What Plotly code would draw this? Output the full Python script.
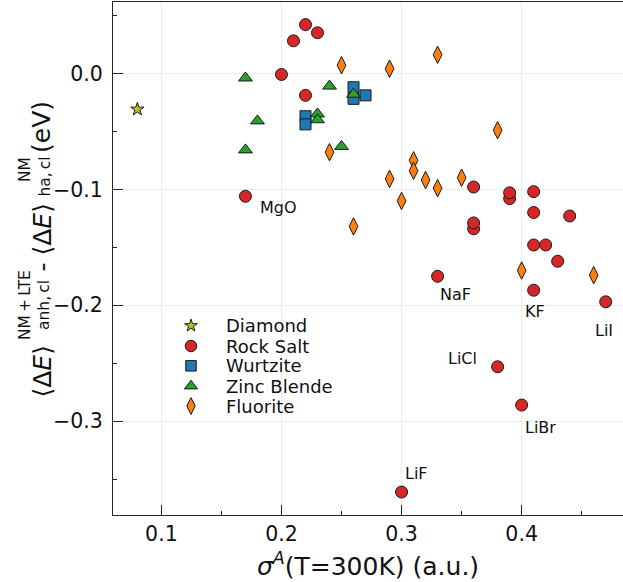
import plotly.graph_objects as go

# ---------------- data ----------------
diamond_x = [0.08]
diamond_y = [-0.031]

rocksalt_x = [0.22, 0.23, 0.21, 0.20, 0.22, 0.17, 0.36, 0.39, 0.39, 0.41, 0.36, 0.36,
              0.41, 0.44, 0.41, 0.42, 0.43, 0.33, 0.41, 0.47, 0.38, 0.40, 0.30]
rocksalt_y = [0.042, 0.035, 0.028, -0.001, -0.019, -0.106, -0.098, -0.108, -0.103, -0.102, -0.134, -0.129,
              -0.120, -0.123, -0.148, -0.148, -0.162, -0.175, -0.187, -0.197, -0.253, -0.286, -0.361]

wurtzite_x = [0.22, 0.22, 0.26, 0.26, 0.27]
wurtzite_y = [-0.037, -0.044, -0.012, -0.022, -0.019]

zinc_x = [0.17, 0.18, 0.17, 0.24, 0.23, 0.23, 0.25, 0.26]
zinc_y = [-0.004, -0.041, -0.066, -0.011, -0.035, -0.040, -0.063, -0.018]

fluorite_x = [0.25, 0.24, 0.26, 0.29, 0.33, 0.38, 0.31, 0.31, 0.29, 0.32, 0.33, 0.35, 0.30, 0.40, 0.46]
fluorite_y = [0.007, -0.068, -0.132, 0.004, 0.016, -0.049, -0.075, -0.084, -0.091, -0.092, -0.099,
              -0.090, -0.110, -0.170, -0.174]

series_names = ["Diamond", "Rock Salt", "Wurtzite", "Zinc Blende", "Fluorite"]

label_names = ["MgO", "NaF", "KF", "LiI", "LiCl", "LiBr", "LiF"]
label_x = [0.17, 0.33, 0.41, 0.47, 0.38, 0.40, 0.30]
label_y = [-0.106, -0.175, -0.187, -0.197, -0.253, -0.286, -0.361]

x_ticks = [0.1, 0.2, 0.3, 0.4]
y_ticks = [0.0, -0.1, -0.2, -0.3]

# ---------------- styles ----------------
FONT = "DejaVu Sans"
W, H = 623, 582
ML, MR, MT, MB = 113, 0, 2, 67
PW, PH = W - ML - MR, H - MT - MB

styles = [
    dict(symbol="star", size=10, color="#bcbd22"),
    dict(symbol="circle", size=12, color="#d62728"),
    dict(symbol="square", size=11, color="#1f77b4"),
    dict(symbol="triangle-up", size=12, color="#2ca02c"),
    dict(symbol="diamond-tall", size=12.5, color="#ff7f0e"),
]
edge = dict(color="#1a1a1a", width=1)

fig = go.Figure()
data = [(diamond_x, diamond_y), (rocksalt_x, rocksalt_y), (wurtzite_x, wurtzite_y),
        (zinc_x, zinc_y), (fluorite_x, fluorite_y)]
for (xs, ys), name, st in zip(data, series_names, styles):
    fig.add_trace(go.Scatter(x=xs, y=ys, mode="markers", name=name, showlegend=False,
                             marker=dict(symbol=st["symbol"], size=st["size"], color=st["color"], line=edge)))

# material labels (offsets in pixels)
label_offsets = {
    "MgO": (12.5, -11, "left"),
    "NaF": (0.5, -18.5, "left"),
    "KF": (-11, -21, "left"),
    "LiI": (-12.5, -28.5, "left"),
    "LiCl": (-19, 8.5, "right"),
    "LiBr": (1, -22.5, "left"),
    "LiF": (1.5, 18.5, "left"),
}
for n, lx, ly in zip(label_names, label_x, label_y):
    dx, dy, anc = label_offsets[n]
    fig.add_annotation(x=lx, y=ly, xref="x", yref="y", text=n, showarrow=False,
                       xanchor=anc, yanchor="middle", xshift=dx, yshift=dy,
                       font=dict(family=FONT, size=16, color="#111"))

# manual legend (markers on hidden overlay axes in [0,1] frame)
leg_marker_px = 191
leg_text_px = 223.5
leg_rows_px = [325.7, 346.0, 365.8, 386.0, 406.0]
for name, st, py in zip(series_names, styles, leg_rows_px):
    fx = (leg_marker_px - ML) / PW
    fy = ((MT + PH) - py) / PH
    fig.add_trace(go.Scatter(x=[fx], y=[fy], xaxis="x2", yaxis="y2", mode="markers", showlegend=False,
                             hoverinfo="skip",
                             marker=dict(symbol=st["symbol"], size=st["size"] - 0.5, color=st["color"], line=edge)))
    fig.add_annotation(x=(leg_text_px - ML) / PW, y=fy, xref="paper", yref="paper", text=name,
                       showarrow=False, xanchor="left", yanchor="middle",
                       font=dict(family=FONT, size=18, color="#111"))

# y-axis title pieces (stacked super/subscripts), positions in pixels
ytitle_parts = [
    ("⟨Δ<i>E</i>⟩", 25, 41.5, 372),
    ("NM\u2009+\u2009LTE", 15.5, 25, 305),
    ("anh,\u2009cl", 15.5, 44, 305),
    ("-", 25, 41.5, 267),
    ("⟨Δ<i>E</i>⟩", 25, 41.5, 230),
    ("NM", 15.5, 25, 170),
    ("ha,\u2009cl", 15.5, 44, 176.5),
    ("(eV)", 25, 41.5, 127.5),
]
for txt, fs, px, py in ytitle_parts:
    fig.add_annotation(x=0, y=0, xref="paper", yref="paper", text=txt, showarrow=False,
                       textangle=-90, xanchor="center", yanchor="middle",
                       xshift=px - ML, yshift=(MT + PH) - py,
                       font=dict(family=FONT, size=fs, color="#111"))

axis_common = dict(
    showline=True, linecolor="#262626", linewidth=1,
    ticks="inside", ticklen=10, tickwidth=1, tickcolor="#262626",
    showgrid=True, gridcolor="#ececec", gridwidth=1, zeroline=False,
    tickfont=dict(family=FONT, size=20.5, color="#111"),
    tickformat=".1f",
)
minor_common = dict(ticks="inside", ticklen=4, tickwidth=1, tickcolor="#262626", showgrid=False,
                    dtick=0.05, tick0=0)

fig.update_layout(
    width=W, height=H,
    margin=dict(l=ML, r=MR, t=MT, b=MB),
    paper_bgcolor="white", plot_bgcolor="white",
    showlegend=False,
    font=dict(family=FONT, color="#111"),
    xaxis=dict(range=[0.0597, 0.4844], tickvals=x_ticks, mirror=True,
               ticklabelstandoff=0,
               title=dict(text="<i>σ</i><sup><i>A</i></sup>(T=300K) (a.u.)",
                          font=dict(family=FONT, size=25, color="#111"), standoff=12),
               minor=minor_common, **axis_common),
    yaxis=dict(range=[-0.3808, 0.0615], tickvals=y_ticks, mirror=False,
               ticklabelstandoff=5,
               minor=minor_common, **axis_common),
    xaxis2=dict(overlaying="x", range=[0, 1], visible=False),
    yaxis2=dict(overlaying="y", range=[0, 1], visible=False),
)

fig.write_html("out.html")
